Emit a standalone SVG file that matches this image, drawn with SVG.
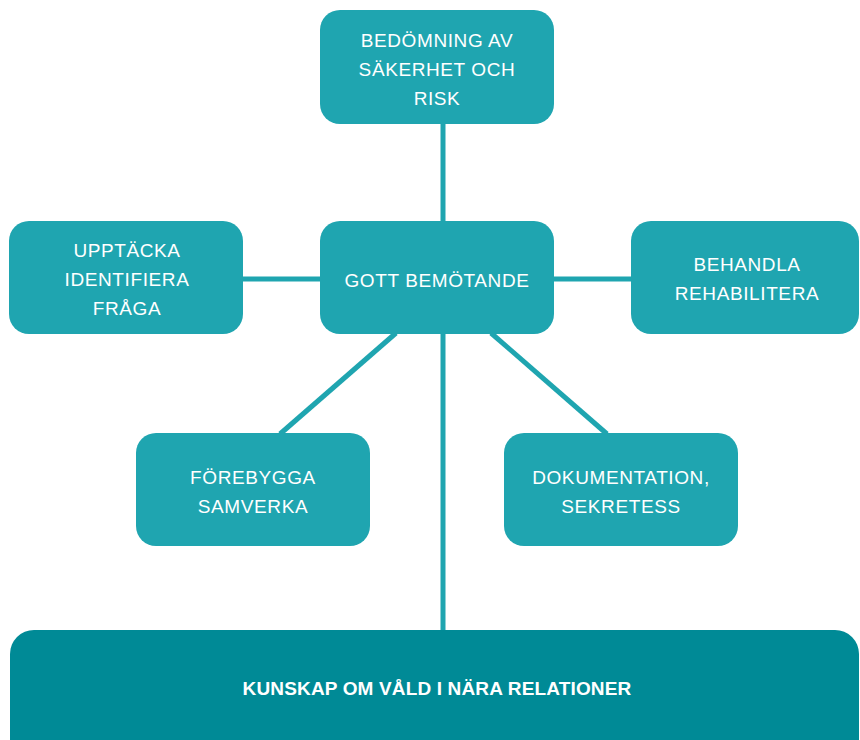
<svg xmlns="http://www.w3.org/2000/svg" width="860" height="740" viewBox="0 0 860 740">
<style>
.box{fill:#1fa5b0}
.base{fill:#008a96}
.conn{stroke:#1fa5b0;stroke-width:5;fill:none}
.t{font-family:"Liberation Sans",Arial,sans-serif;font-size:19px;letter-spacing:0.6px;fill:#ffffff;text-anchor:middle}
.tb{font-family:"Liberation Sans",Arial,sans-serif;font-size:19px;font-weight:bold;letter-spacing:0.15px;fill:#ffffff;text-anchor:middle}
</style>
<rect width="860" height="740" fill="#ffffff"/>
<g id="connectors">
<line class="conn" x1="443" y1="124" x2="443" y2="221"/>
<line class="conn" x1="443" y1="334" x2="443" y2="630"/>
<line class="conn" x1="243" y1="279" x2="320" y2="279"/>
<line class="conn" x1="554" y1="279" x2="631" y2="279"/>
<line class="conn" x1="396" y1="333" x2="280" y2="434"/>
<line class="conn" x1="491" y1="333" x2="607" y2="434"/>
</g>
<g id="node-bedomning">
<rect class="box" x="320" y="10" width="234" height="114" rx="20"/>
<text class="t" x="437" y="47">BEDÖMNING AV</text>
<text class="t" x="437" y="76">SÄKERHET OCH</text>
<text class="t" x="437" y="105">RISK</text>
</g>
<g id="node-gott">
<rect class="box" x="320" y="221" width="234" height="113" rx="20"/>
<text class="t" x="437" y="287">GOTT BEMÖTANDE</text>
</g>
<g id="node-upptacka">
<rect class="box" x="9" y="221" width="234" height="113" rx="20"/>
<text class="t" x="127" y="257">UPPTÄCKA</text>
<text class="t" x="127" y="286">IDENTIFIERA</text>
<text class="t" x="127" y="315">FRÅGA</text>
</g>
<g id="node-behandla">
<rect class="box" x="631" y="221" width="228" height="113" rx="20"/>
<text class="t" x="747" y="271">BEHANDLA</text>
<text class="t" x="747" y="300">REHABILITERA</text>
</g>
<g id="node-forebygga">
<rect class="box" x="136" y="433" width="234" height="113" rx="20"/>
<text class="t" x="253" y="484">FÖREBYGGA</text>
<text class="t" x="253" y="513">SAMVERKA</text>
</g>
<g id="node-dokumentation">
<rect class="box" x="504" y="433" width="234" height="113" rx="20"/>
<text class="t" x="621" y="484">DOKUMENTATION,</text>
<text class="t" x="621" y="513">SEKRETESS</text>
</g>
<g id="node-kunskap">
<rect class="base" x="10" y="630" width="849" height="140" rx="24"/>
<text class="tb" x="437" y="695">KUNSKAP OM VÅLD I NÄRA RELATIONER</text>
</g>
</svg>
